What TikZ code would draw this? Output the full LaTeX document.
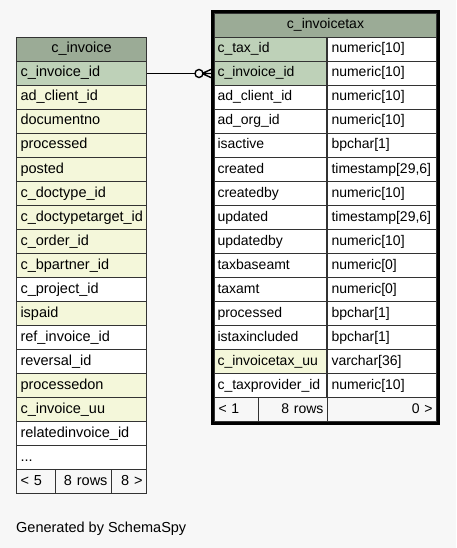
\documentclass[tikz,border=0pt]{standalone}
\usepackage{fontspec}
\setmainfont{Liberation Sans}
\usetikzlibrary{calc}
\definecolor{bgcol}{HTML}{F7F7F7}
\definecolor{headcol}{HTML}{9BAB96}
\definecolor{keycol}{HTML}{BED1B8}
\definecolor{idxcol}{HTML}{F4F7DA}
\definecolor{gridcol}{HTML}{333333}
\begin{document}
\begin{tikzpicture}[x=1pt,y=-1pt,
    cell/.style={draw=gridcol, line width=1pt, anchor=north west, minimum height=24pt,
      text height=10pt, text depth=3pt, inner xsep=4pt, inner ysep=0pt, align=left,
      font=\fontsize{14}{16}\selectfont},
    bigcell/.style={cell, font=\fontsize{14.5}{16}\selectfont},
    headcell/.style={cell, fill=headcol, align=center},
    footcell/.style={cell, fill=bgcol}]
        \fill[bgcol] (0,0) rectangle (456,548);
        \useasboundingbox (0,0) rectangle (456,548);

        % c_invoice
        \node[bigcell, fill=headcol, align=center, text width=122pt] (inv-head) at (16,37) {c\_invoice};
        \foreach \txt/\col [count=\i] in {c\_invoice\_id/keycol, ad\_client\_id/idxcol,
            documentno/idxcol, processed/idxcol, posted/idxcol, c\_doctype\_id/idxcol,
            c\_doctypetarget\_id/idxcol, c\_order\_id/idxcol, c\_bpartner\_id/idxcol,
            c\_project\_id/white, ispaid/idxcol, ref\_invoice\_id/white, reversal\_id/white,
            processedon/idxcol, c\_invoice\_uu/idxcol, relatedinvoice\_id/white}
          \node[bigcell, text width=122pt, fill=\col] (inv-\i) at (16,37+24*\i) {\txt};
        \node[bigcell, text width=122pt, fill=white] (inv-17) at (16,445) {.{}.{}.};
        \node[footcell, bigcell, text width=31pt] (invfoot-1) at (16,469) {< 5};
        \node[footcell, bigcell, text width=48pt, align=right] (invfoot-2) at (55,469) {8 rows};
        \node[footcell, bigcell, text width=27pt, align=right] (invfoot-3) at (111,469) {8 >};

        % c_invoicetax
        \node[headcell, text width=214pt] (tax-head) at (214,13) {c\_invoicetax};
        \foreach \txt/\typ/\col [count=\i] in {{c\_tax\_id/numeric[10]/keycol},
            {c\_invoice\_id/numeric[10]/keycol}, {ad\_client\_id/numeric[10]/white},
            {ad\_org\_id/numeric[10]/white}, {isactive/bpchar[1]/white},
            {created/timestamp[29,6]/white}, {createdby/numeric[10]/white},
            {updated/timestamp[29,6]/white}, {updatedby/numeric[10]/white},
            {taxbaseamt/numeric[0]/white}, {taxamt/numeric[0]/white},
            {processed/bpchar[1]/white}, {istaxincluded/bpchar[1]/white},
            {c\_invoicetax\_uu/varchar[36]/idxcol}, {c\_taxprovider\_id/numeric[10]/white}}
        {
          \node[cell, text width=106pt, inner xsep=3pt, fill=\col] (tax-\i) at (214,13+24*\i) {\txt};
          \node[cell, text width=101pt, fill=white] (taxtype-\i) at (327,13+24*\i) {\typ};
        }
        \node[footcell, text width=36pt] (taxfoot-1) at (214,397) {< 1};
        \node[footcell, text width=61pt, align=right] (taxfoot-2) at (258,397) {8 rows};
        \node[footcell, text width=101pt, align=right] (taxfoot-3) at (327,397) {0 >};
        \draw[line width=3pt] ($(tax-head.north west)+(-1.5,-1.5)$) rectangle ($(taxfoot-3.south east)+(1.5,1.5)$);

        % relation
        \coordinate (crow) at ($(tax-2.west)+(-12,0)$);
        \draw[line width=1pt] (inv-1.east) -- (tax-2.west);
        \draw[line width=1.4pt] (crow) -- ($(tax-2.west)+(-2,-4.5)$)
          (crow) -- ($(tax-2.west)+(-2,0)$)
          (crow) -- ($(tax-2.west)+(-2,4.5)$);
        \draw[line width=1.4pt, fill=bgcol] ($(crow)+(-3,0)$) circle (4);

        \node[anchor=base west, inner sep=0pt, font=\fontsize{14.5}{16}\selectfont] (credit) at (16,532) {Generated by SchemaSpy};
\end{tikzpicture}
\end{document}
